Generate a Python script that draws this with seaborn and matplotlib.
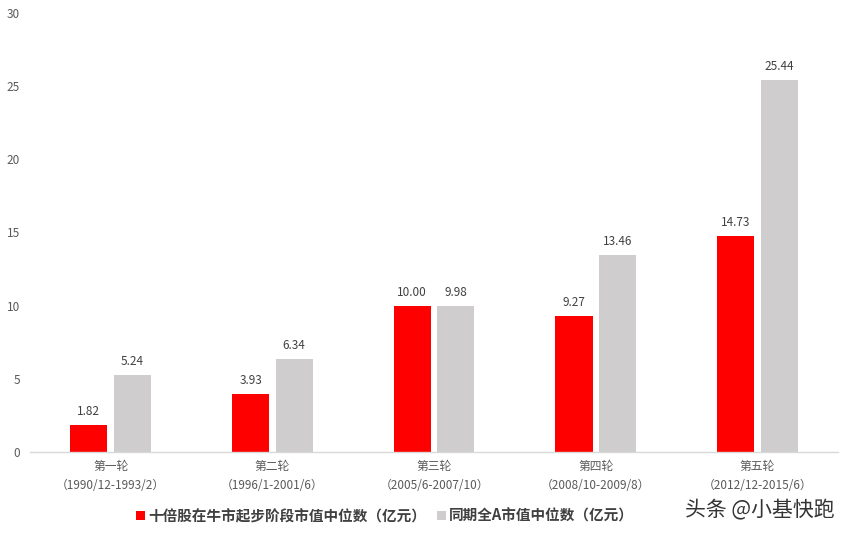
import matplotlib
matplotlib.use("Agg")
import matplotlib.pyplot as plt
import seaborn as sns
import pandas as pd

rounds = ["第一轮", "第二轮", "第三轮", "第四轮", "第五轮"]
periods = ["（1990/12-1993/2）", "（1996/1-2001/6）", "（2005/6-2007/10）",
           "（2008/10-2009/8）", "（2012/12-2015/6）"]
series_names = ["十倍股在牛市起步阶段市值中位数（亿元）", "同期全A市值中位数（亿元）"]
tenbagger = [1.82, 3.93, 10.00, 9.27, 14.73]
all_a = [5.24, 6.34, 9.98, 13.46, 25.44]
y_ticks = [0, 5, 10, 15, 20, 25, 30]

sns.set_theme(style="white")
plt.rcParams['font.family'] = ['Noto Sans CJK SC', 'DejaVu Sans']

labels = [f"{r}\n{p}" for r, p in zip(rounds, periods)]
df = pd.DataFrame({
    "cat": labels * 2,
    "series": [series_names[0]] * 5 + [series_names[1]] * 5,
    "value": tenbagger + all_a,
})

fig = plt.figure(figsize=(8.52, 5.36), dpi=100)
ax = fig.add_axes([0.035, 0.157, 0.949, 0.819])
sns.barplot(data=df, x="cat", y="value", hue="series", order=labels,
            hue_order=series_names, palette=["#FF0000", "#CFCDCD"],
            width=0.54, gap=0.15, ax=ax, legend=True, saturation=1,
            linewidth=0, edgecolor="none")

for cont in ax.containers:
    ax.bar_label(cont, fmt="%.2f", padding=5, fontsize=8.5, color="#404040")

ax.set_ylim(0, 30)
ax.set_xlim(-0.5, 4.5)
ax.set_yticks(y_ticks)
ax.set_yticklabels([str(t) for t in y_ticks], fontsize=8.5, color="#595959")
ax.tick_params(axis="x", labelsize=8.5, colors="#595959", length=0, pad=6)
ax.tick_params(axis="y", length=0, pad=7)
for lbl in ax.get_xticklabels():
    lbl.set_linespacing(1.6)
ax.set_xlabel("")
ax.set_ylabel("")
for s in ["top", "right", "left"]:
    ax.spines[s].set_visible(False)
ax.spines["bottom"].set_color("#D9D9D9")
ax.spines["bottom"].set_linewidth(1)
ax.grid(False)

handles, lbls = ax.get_legend_handles_labels()
ax.legend_.remove()
fig.legend(handles, lbls, loc="center", bbox_to_anchor=(385 / 852, 1 - 516 / 536),
           ncol=2, frameon=False, handlelength=0.6, handleheight=0.6,
           handletextpad=0.2, columnspacing=0.8,
           prop={"size": 10.5, "weight": "bold"}, labelcolor="#404040")

fig.text(835 / 852, 1 - 510 / 536, "头条 @小基快跑", ha="right", va="center",
         fontsize=15, color="#333333")

fig.savefig("out.png", dpi=100)
